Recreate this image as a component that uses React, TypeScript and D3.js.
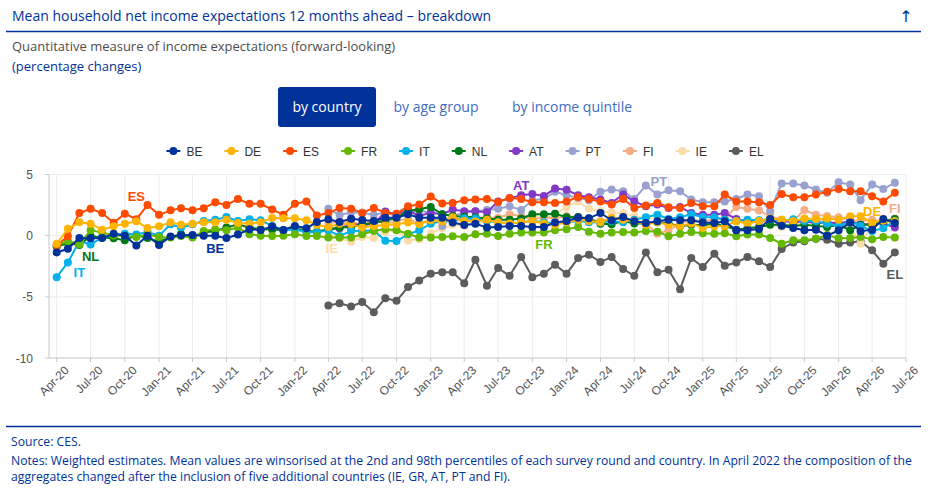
import { useEffect, useRef } from "react";
import * as d3 from "d3";

const W = 930;
const H = 491;

// survey months: Apr-20 .. Jun-26
const months = d3.timeMonth.range(new Date(2020, 3, 1), new Date(2026, 6, 1));
// five countries joined in Apr-22
const lateStart = 24;

const BE = [
  -1.37, -1.07, -0.19, -0.22, -0.2, 0.16, 0.0, -0.8, 0.0, -0.76, -0.06, 0.03,
  0.05, 0.0, 0.0, -0.2, 0.1, 0.53, 0.46, 0.74, 0.46, 0.8, 0.6, 1.12,
  1.34, 1.12, 1.39, 1.28, 1.2, 1.47, 1.47, 1.75, 1.47, 1.47, 1.47, 1.07,
  0.87, 0.98, 0.66, 0.71, 0.8, 0.8, 0.71, 0.71, 1.07, 1.2, 1.47, 1.42,
  1.85, 1.26, 1.53, 1.17, 1.04, 1.17, 1.31, 1.26, 1.26, 1.07, 1.04, 1.17,
  0.44, 0.44, 0.55, 1.37, 0.82, 0.63, 0.44, 0.49, 0.0, 0.44, 1.07, 0.36,
  0.49, 1.37, 1.04,
];
const DE = [
  -0.66, 0.57, 1.09, 0.98, 0.49, 0.76, 0.98, 1.17, 0.63, 0.76, 1.09, 0.9,
  0.98, 1.09, 1.09, 1.31, 1.04, 0.98, 1.1, 1.45, 1.42, 1.42, 1.26, 0.88,
  0.71, 0.98, 0.93, 0.66, 0.8, 0.87, 0.93, 1.07, 0.93, 1.26, 1.15, 1.5,
  1.2, 1.15, 1.3, 1.1, 1.0, 1.1, 1.2, 1.0, 0.9, 1.1, 1.3, 1.2,
  1.1, 1.45, 1.31, 1.2, 0.9, 1.1, 0.9, 0.8, 1.0, 0.63, 0.77, 0.8,
  1.17, 1.0, 1.2, 1.4, 1.3, 1.2, 1.4, 1.37, 1.4, 1.3, 1.58, 1.58,
  1.04, 1.23, 1.17,
];
const ES = [
  -0.8, -0.05, 1.85, 2.2, 1.85, 1.05, 1.8, 1.35, 2.5, 1.7, 2.07, 2.25,
  2.07, 2.25, 2.73, 2.5, 3.0, 2.6, 2.6, 2.13, 1.72, 2.6, 2.8, 1.64,
  1.85, 2.27, 2.2, 1.85, 2.27, 1.85, 1.8, 2.4, 2.54, 3.2, 2.62, 2.68,
  2.9, 2.95, 3.0, 2.76, 3.08, 3.0, 2.73, 2.73, 2.68, 2.8, 3.17, 3.0,
  2.8, 2.54, 3.0, 2.27, 2.46, 2.68, 2.32, 2.27, 2.68, 2.4, 2.4, 3.36,
  2.8, 2.8, 2.73, 2.5, 3.4, 3.14, 3.14, 3.36, 3.58, 3.82, 3.63, 3.63,
  3.22, 2.8, 3.5,
];
const FR = [
  -0.8, -0.45, -0.7, 0.44, 0.27, 0.02, 0.0, -0.1, 0.1, -0.1, -0.16, -0.02,
  -0.16, 0.38, 0.52, 0.44, 0.66, 0.11, 0.0, -0.02, 0.0, 0.11, -0.02, -0.02,
  -0.16, -0.16, -0.16, 0.11, 0.38, 0.52, 0.44, 0.16, -0.16, -0.16, -0.1, -0.05,
  -0.1, 0.11, 0.16, -0.02, 0.16, 0.25, 0.25, 0.25, 0.44, 0.52, 0.71, 0.33,
  0.16, 0.25, 0.3, 0.25, 0.38, 0.33, -0.05, 0.16, 0.3, 0.2, 0.16, 0.2,
  -0.05, 0.1, 0.1, -0.19, -0.66, -0.38, -0.38, -0.25, 0.05, -0.22, -0.2, -0.1,
  -0.3, -0.1, -0.16,
];
const IT = [
  -3.39, -2.19, -0.46, -0.72, -0.16, 0.1, 0.15, 0.1, 0.3, 0.0, 0.93, 0.66,
  0.93, 1.2, 1.3, 1.53, 1.2, 1.34, 1.26, 0.8, 0.44, 0.5, 0.3, 0.25,
  0.44, -0.02, 0.38, 0.38, 0.44, -0.42, -0.44, 0.11, 0.44, 0.98, 1.2, 1.3,
  1.42, 1.4, 1.2, 1.1, 1.0, 1.1, 1.2, 1.1, 1.0, 1.1, 1.2, 1.1,
  1.07, 1.2, 1.1, 1.3, 1.5, 1.72, 1.37, 1.5, 1.75, 1.53, 1.5, 1.3,
  1.2, 1.3, 1.26, 1.34, 1.2, 1.34, 1.2, 1.2, 0.98, 0.8, 1.15, 0.8,
  0.38, 0.6, 1.2,
];
const NL = [
  -0.9, -0.6, -0.77, -0.02, -0.16, -0.22, -0.38, 0.05, -0.2, -0.49, -0.1, 0.11,
  -0.1, 0.25, 0.38, 0.66, 0.93, 0.66, 0.52, 0.5, 0.45, 0.6, 0.4, 0.33,
  0.52, 0.66, 0.7, 0.87, 1.07, 1.2, 1.47, 2.02, 2.16, 2.35, 1.75, 1.61,
  1.55, 1.5, 1.4, 1.3, 1.3, 1.4, 1.75, 1.75, 1.8, 1.5, 1.53, 1.4,
  0.98, 0.93, 1.2, 1.0, 1.0, 1.1, 1.0, 0.77, 0.9, 0.85, 1.0, 0.8,
  0.49, 0.6, 0.7, 0.9, 0.9, 0.8, 0.9, 0.8, 0.7, 0.9, 0.44, 0.9,
  0.9, 1.17, 1.37,
];
// from Apr-22
const AT = [
  0.5, 0.6, 0.93, 0.9, 0.93, 1.97, 1.75, 2.07, 1.61, 1.88, 1.75, 2.13,
  2.0, 2.0, 1.91, 2.8, 3.05, 3.3, 3.4, 3.25, 3.85, 3.75, 3.3, 3.15,
  2.95, 2.68, 3.36, 2.8, 2.4, 2.54, 2.27, 2.35, 1.85, 1.72, 1.72, 1.85,
  1.37, 1.17, 1.2, 1.31, 1.2, 1.1, 1.2, 1.0, 1.1, 1.0, 1.2, 0.9,
  1.0, 1.0, 0.66,
];
const PT = [
  2.2, 1.7, 1.9, 1.9, 1.7, 1.9, 1.6, 1.8, 2.1, 1.8, 0.8, 1.6,
  1.9, 2.0, 2.1, 2.2, 2.4, 2.1, 2.9, 3.0, 3.6, 3.3, 3.1, 2.9,
  3.6, 3.77, 3.63, 3.0, 4.1, 3.36, 3.71, 3.63, 2.95, 2.73, 2.73, 2.8,
  3.0, 3.36, 3.22, 2.0, 4.26, 4.26, 4.1, 3.77, 3.5, 4.37, 4.18, 2.9,
  4.18, 3.82, 4.32,
];
const FI = [
  1.0, 1.2, 1.1, 0.9, 1.3, 1.0, 1.2, 1.4, 1.0, 1.3, 1.5, 1.3,
  1.2, 1.4, 1.5, 1.47, 1.75, 1.6, 1.3, 1.5, 1.4, 1.6, 1.5, 1.3,
  1.2, 1.4, 1.5, 1.2, 1.0, 0.16, 0.44, 1.0, 1.3, 1.2, 1.3, 1.4,
  2.35, 2.2, 2.05, 1.6, 1.3, 1.2, 2.1, 1.7, 1.6, 1.5, 1.3, 1.2,
  1.3, 1.2, 1.4,
];
const IE = [
  0.1, -0.2, -0.5, -0.1, -0.2, 0.3, 0.5, -0.4, -0.3, 0.2, 0.6, 0.9,
  0.8, 1.0, 1.2, 1.3, 1.2, 1.5, 1.6, 1.4, 1.8, 2.3, 2.8, 2.2,
  2.0, 1.9, 1.85, 1.6, 1.4, 1.5, 1.3, 1.4, 1.2, 1.1, 1.3, 1.5,
  1.2, 1.0, 1.2, 0.9, 0.7, 0.9, 1.1, 1.3, 1.2, 1.0, 0.6, -0.66,
  0.9, 1.1, 1.0,
];
const EL = [
  -5.71, -5.52, -5.79, -5.43, -6.25, -5.11, -5.33, -4.2, -3.66, -3.11, -3.0, -3.0,
  -3.88, -1.97, -4.1, -2.65, -3.28, -1.75, -3.39, -3.11, -2.38, -3.11, -1.83, -1.56,
  -2.15, -1.75, -2.73, -3.28, -1.37, -3.0, -2.79, -4.37, -1.83, -2.57, -1.48, -2.46,
  -2.19, -1.75, -2.1, -2.57, -1.09, -0.55, -0.46, -0.25, -0.33, -0.66, -0.55, -0.46,
  -1.2, -2.3, -1.37,
];

const series = [
  { code: "BE", color: "#003299", values: BE, start: 0 },
  { code: "DE", color: "#ffb400", values: DE, start: 0 },
  { code: "ES", color: "#ff4b00", values: ES, start: 0 },
  { code: "FR", color: "#65b800", values: FR, start: 0 },
  { code: "IT", color: "#00b1ea", values: IT, start: 0 },
  { code: "NL", color: "#007816", values: NL, start: 0 },
  { code: "AT", color: "#8139c6", values: AT, start: lateStart },
  { code: "PT", color: "#98a1d0", values: PT, start: lateStart },
  { code: "FI", color: "#f5ad86", values: FI, start: lateStart },
  { code: "IE", color: "#fddca9", values: IE, start: lateStart },
  { code: "EL", color: "#5c5c5c", values: EL, start: lateStart },
];

// in-chart series labels: [code, date, value]
const annotations: [string, string, number][] = [
  ["ES", "2020-11-01", 3.18],
  ["NL", "2020-07-01", -1.71],
  ["IT", "2020-06-01", -3.0],
  ["BE", "2021-06-01", -1.07],
  ["IE", "2022-04-10", -1.07],
  ["AT", "2023-09-01", 4.07],
  ["FR", "2023-11-01", -0.73],
  ["PT", "2024-09-05", 4.4],
  ["DE", "2026-04-01", 1.96],
  ["FI", "2026-06-01", 2.2],
  ["EL", "2026-06-01", -3.18],
];

const yTicks = [5, 0, -5, -10];
const tabs = ["by country", "by age group", "by income quintile"];

const NAVY = "#003299";
const SANS = "'Open Sans', 'Noto Sans', sans-serif";
const CHART_FONT = "'Liberation Sans', Arial, sans-serif";

export default function App() {
  const svgRef = useRef<SVGSVGElement>(null);

  useEffect(() => {
    if (!svgRef.current) return;
    const svg = d3.select(svgRef.current);
    svg.selectAll("*").remove();

    svg.append("rect").attr("width", W).attr("height", H).attr("fill", "#fff");

    // header
    svg.append("text")
      .attr("x", 12).attr("y", 21)
      .attr("fill", NAVY).style("font-family", SANS).style("font-size", "14px")
      .text("Mean household net income expectations 12 months ahead – breakdown");
    svg.append("text")
      .attr("x", 906).attr("y", 22).attr("text-anchor", "middle")
      .attr("fill", NAVY).style("font-family", "'DejaVu Sans', sans-serif").style("font-size", "16px")
      .text("↑");
    svg.append("line")
      .attr("x1", 6).attr("x2", 921).attr("y1", 31.5).attr("y2", 31.5)
      .attr("stroke", NAVY).attr("stroke-width", 1.5);
    svg.append("text")
      .attr("x", 12).attr("y", 51)
      .attr("fill", "#4d4d4d").style("font-family", SANS).style("font-size", "13px")
      .text("Quantitative measure of income expectations (forward-looking)");
    svg.append("text")
      .attr("x", 12).attr("y", 71)
      .attr("fill", NAVY).style("font-family", SANS).style("font-size", "13px")
      .text("(percentage changes)");

    // tabs
    svg.append("rect")
      .attr("x", 278).attr("y", 87).attr("width", 98).attr("height", 40).attr("rx", 3)
      .attr("fill", NAVY);
    const tabX = [327, 436, 572];
    tabs.forEach((t, i) => {
      svg.append("text")
        .attr("x", tabX[i]).attr("y", 112).attr("text-anchor", "middle")
        .attr("fill", i === 0 ? "#fff" : "#3d6cc2")
        .style("font-family", SANS).style("font-size", "14px")
        .text(t);
    });

    // legend
    const legend = svg.append("g").attr("transform", "translate(0,151)");
    let lx = 0;
    series.forEach((s) => {
      const item = legend.append("g").attr("transform", `translate(${lx},0)`);
      item.append("line").attr("x1", 0).attr("x2", 14).attr("stroke", s.color).attr("stroke-width", 2);
      item.append("circle").attr("cx", 7).attr("r", 4).attr("fill", s.color);
      const label = item.append("text")
        .attr("x", 20).attr("y", 4.5)
        .attr("fill", "#333").style("font-family", CHART_FONT).style("font-size", "12px")
        .text(s.code);
      const tw = (label.node() as SVGTextElement).getComputedTextLength();
      lx += 20 + tw + 22;
    });
    legend.attr("transform", `translate(${465 - (lx - 22) / 2},151)`);

    // chart
    const x = d3.scaleTime()
      .domain([new Date(2020, 3, 1), new Date(2026, 6, 1)])
      .range([56.7, 906]);
    const y = d3.scaleLinear().domain([-10, 5]).range([358, 174.5]);
    const left = 49;

    const xTicks = d3.timeMonth.every(3)!.range(new Date(2020, 3, 1), new Date(2026, 6, 2));
    const fmt = d3.timeFormat("%b-%y");

    const grid = svg.append("g");
    xTicks.forEach((d) => {
      grid.append("line")
        .attr("x1", x(d)).attr("x2", x(d)).attr("y1", y(5)).attr("y2", y(-10))
        .attr("stroke", "#ececec");
    });
    yTicks.forEach((v) => {
      grid.append("line")
        .attr("x1", left).attr("x2", 906).attr("y1", y(v)).attr("y2", y(v))
        .attr("stroke", v === -10 ? "#c8c8c8" : "#ececec");
      grid.append("line")
        .attr("x1", left - 4).attr("x2", left).attr("y1", y(v)).attr("y2", y(v))
        .attr("stroke", "#c8c8c8");
      grid.append("text")
        .attr("x", 33).attr("y", y(v) + 4.5).attr("text-anchor", "end")
        .attr("fill", "#555").style("font-family", CHART_FONT).style("font-size", "12px")
        .text(v);
    });
    grid.append("line")
      .attr("x1", left).attr("x2", left).attr("y1", y(5)).attr("y2", y(-10))
      .attr("stroke", "#c8c8c8");

    xTicks.forEach((d) => {
      grid.append("line")
        .attr("x1", x(d)).attr("x2", x(d)).attr("y1", y(-10)).attr("y2", y(-10) + 4)
        .attr("stroke", "#c8c8c8");
      grid.append("text")
        .attr("transform", `translate(${x(d) + 13},${y(-10) + 13}) rotate(-45)`)
        .attr("text-anchor", "end")
        .attr("fill", "#555").style("font-family", CHART_FONT).style("font-size", "12px")
        .text(fmt(d));
    });

    const line = d3.line<[Date, number]>()
      .x((d) => x(d[0]))
      .y((d) => y(d[1]));

    // draw last series first so BE ends on top
    [...series].reverse().forEach((s) => {
      const pts: [Date, number][] = s.values.map((v, i) => [months[s.start + i], v]);
      const g = svg.append("g");
      g.append("path")
        .attr("d", line(pts))
        .attr("fill", "none")
        .attr("stroke", s.color)
        .attr("stroke-width", 2);
      g.selectAll("circle")
        .data(pts)
        .join("circle")
        .attr("cx", (d) => x(d[0]))
        .attr("cy", (d) => y(d[1]))
        .attr("r", 4)
        .attr("fill", s.color);
    });

    annotations.forEach(([code, date, v]) => {
      const s = series.find((c) => c.code === code)!;
      svg.append("text")
        .attr("x", x(new Date(date))).attr("y", y(v) + 4.5)
        .attr("text-anchor", "middle")
        .attr("fill", s.color)
        .style("font-family", CHART_FONT).style("font-size", "13px").style("font-weight", "bold")
        .text(code);
    });

    // footer
    svg.append("line")
      .attr("x1", 6).attr("x2", 921).attr("y1", 426.5).attr("y2", 426.5)
      .attr("stroke", NAVY).attr("stroke-width", 1.5);
    const notes = [
      "Source: CES.",
      "Notes: Weighted estimates. Mean values are winsorised at the 2nd and 98th percentiles of each survey round and country. In April 2022 the composition of the",
      "aggregates changed after the inclusion of five additional countries (IE, GR, AT, PT and FI).",
    ];
    const noteY = [446, 465, 481];
    notes.forEach((t, i) => {
      svg.append("text")
        .attr("x", 11).attr("y", noteY[i])
        .attr("fill", NAVY).style("font-family", SANS).style("font-size", "12.2px")
        .text(t);
    });
  }, []);

  return (
    <svg
      ref={svgRef}
      width={W}
      height={H}
      style={{ position: "absolute", left: 0, top: 0, background: "#fff" }}
    />
  );
}
